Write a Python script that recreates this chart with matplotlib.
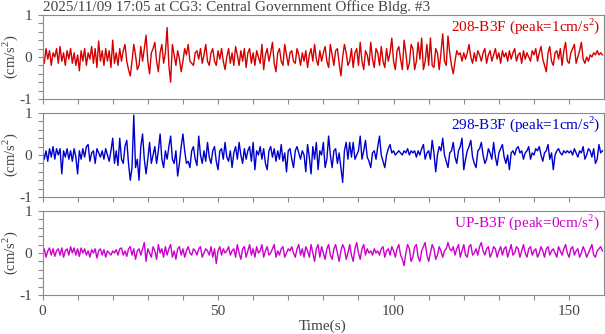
import numpy as np
import matplotlib
matplotlib.use("Agg")
from matplotlib import pyplot as plt

plt.rcParams['font.family'] = ['Liberation Serif', 'DejaVu Serif']
plt.rcParams['axes.unicode_minus'] = False
plt.rcParams['mathtext.fontset'] = 'custom'
plt.rcParams['mathtext.rm'] = 'Liberation Serif'

title = "2025/11/09 17:05 at CG3: Central Government Office Bldg. #3"
channels = ["208-B3F", "298-B3F", "UP-B3F"]
peaks = [1, 1, 0]
colors = ["#d40000", "#0000cc", "#cc00cc"]
dt = 0.5  # sample spacing (s)

# acceleration (cm/s^2), every 0.5 s
acc_208 = [
    0.05, -0.15, 0.2, -0.05, 0.15, -0.2, 0.1, 0.0, 0.2, -0.15, 0.25, -0.1, 0.1, -0.2, 0.15, -0.05, 0.2, -0.15, 0.1, -0.2,
    0.05, -0.33, 0.15, -0.1, 0.2, -0.2, 0.1, -0.05, 0.25, -0.15, 0.2, -0.25, 0.38, -0.1, 0.15, -0.2, 0.2, -0.1, 0.15, -0.25,
    0.4, -0.15, 0.1, -0.2, 0.2, -0.1, 0.15, 0.3, -0.1, -0.3, -0.45, -0.1, 0.3, 0.05, -0.3, -0.2, 0.25, -0.1, 0.2, 0.52,
    -0.1, -0.4, 0.1, 0.2, 0.35, -0.1, -0.35, 0.1, 0.3, -0.15, 0.1, 0.7, -0.2, -0.6, 0.3, 0.05, -0.2, 0.15, -0.05, -0.35,
    -0.1, 0.2, 0.05, 0.3, -0.1, -0.15, -0.2, 0.1, 0.15, -0.05, 0.2, -0.15, 0.05, 0.3, -0.1, -0.2, 0.1, 0.2, -0.1, -0.2,
    0.15, -0.05, 0.2, -0.1, -0.3, 0.0, 0.2, -0.15, 0.1, -0.2, 0.25, 0.05, -0.2, 0.15, -0.1, 0.2, -0.25, 0.1, 0.2, -0.15,
    0.1, -0.2, 0.15, 0.0, -0.15, 0.3, -0.3, 0.05, 0.2, -0.1, 0.1, 0.35, -0.15, -0.35, 0.1, 0.2, -0.1, -0.2, 0.3, 0.05,
    -0.2, 0.1, 0.15, -0.1, -0.15, 0.2, 0.05, -0.2, 0.1, -0.1, 0.15, -0.25, 0.05, 0.2, -0.1, 0.3, -0.05, -0.2, 0.15, -0.1,
    0.1, 0.25, -0.1, -0.25, 0.3, 0.05, -0.2, 0.15, 0.2, -0.15, -0.45, 0.0, 0.3, 0.1, -0.2, -0.1, 0.2, -0.25, 0.1, 0.2,
    -0.2, 0.35, -0.1, -0.3, 0.15, 0.05, -0.2, 0.35, -0.05, -0.25, 0.2, 0.1, -0.2, 0.25, -0.1, -0.25, 0.2, -0.1, 0.1, 0.45,
    -0.1, -0.3, 0.15, 0.25, -0.05, -0.3, 0.4, 0.1, -0.3, -0.15, 0.3, 0.2, -0.3, -0.1, 0.35, -0.05, 0.45, -0.3, -0.1, 0.3,
    -0.2, 0.45, -0.2, -0.25, 0.2, 0.1, -0.3, 0.1, 0.55, -0.1, -0.2, 0.5, 0.1, -0.2, -0.4, -0.1, 0.15, 0.05, 0.1, -0.1,
    0.1, -0.05, 0.1, 0.3, 0.0, -0.15, 0.1, -0.1, 0.15, 0.05, -0.1, 0.1, 0.2, -0.15, 0.05, 0.15, -0.1, 0.05, 0.2, -0.05,
    0.1, -0.15, 0.15, 0.0, 0.1, -0.1, 0.15, -0.05, 0.1, 0.2, -0.1, 0.05, 0.1, -0.15, 0.15, -0.05, 0.1, 0.0, -0.1, 0.15,
    0.05, 0.2, -0.1, 0.1, 0.25, -0.05, -0.2, -0.35, 0.1, 0.25, -0.1, -0.2, 0.1, 0.15, -0.05, 0.2, -0.2, 0.15, 0.35, -0.1,
    -0.15, 0.1, 0.2, 0.3, -0.15, 0.0, 0.15, 0.35, -0.05, -0.15, 0.0, -0.1, 0.05, 0.0, 0.1, 0.05, 0.15, 0.05, 0.1, 0.05,
]
acc_298 = [
    0.15, -0.1, 0.1, -0.15, 0.15, -0.05, 0.2, -0.1, 0.15, 0.0, 0.15, -0.45, 0.1, -0.05, 0.15, -0.1, 0.1, -0.15, 0.15, -0.05,
    -0.45, 0.1, -0.1, 0.15, -0.05, 0.2, 0.25, -0.15, 0.05, 0.1, -0.2, 0.15, 0.05, -0.05, 0.1, -0.1, 0.15, 0.0, -0.15, 0.1,
    0.4, -0.2, 0.1, -0.25, 0.4, -0.1, -0.2, 0.2, 0.35, -0.2, -0.6, -0.3, 0.95, -0.3, -0.1, -0.6, 0.2, 0.5, -0.1, -0.45,
    -0.1, 0.3, -0.2, 0.0, 0.2, -0.2, 0.1, 0.5, -0.1, -0.3, 0.1, -0.1, 0.2, 0.45, -0.1, -0.2, 0.1, -0.5, -0.2, 0.2,
    0.5, 0.1, -0.2, -0.15, -0.3, 0.1, 0.2, -0.1, -0.25, 0.45, 0.0, -0.2, 0.1, -0.15, 0.3, -0.05, -0.2, 0.1, 0.2, -0.15,
    -0.35, 0.1, 0.15, -0.1, 0.3, -0.05, -0.15, 0.1, -0.3, 0.05, 0.2, -0.1, 0.3, 0.0, -0.2, 0.15, -0.1, 0.1, 0.2, -0.15,
    0.3, -0.35, 0.1, 0.0, 0.2, -0.1, 0.15, -0.2, -0.35, 0.1, 0.2, -0.05, 0.15, -0.15, 0.1, -0.1, 0.25, -0.15, 0.05, -0.4,
    0.1, 0.15, -0.1, -0.3, 0.1, 0.2, 0.05, -0.1, 0.1, 0.0, -0.4, 0.25, -0.05, -0.45, 0.2, -0.1, 0.3, -0.35, 0.1, 0.0,
    0.3, -0.3, -0.1, 0.45, 0.0, -0.3, 0.1, 0.15, -0.2, 0.05, -0.3, -0.65, 0.1, 0.3, -0.1, 0.3, -0.05, 0.3, -0.1, 0.0,
    0.1, 0.45, -0.1, 0.1, 0.35, -0.05, -0.15, -0.3, 0.05, 0.1, -0.1, 0.2, 0.45, 0.0, -0.15, -0.3, 0.0, 0.15, 0.25, 0.05,
    0.1, 0.0, 0.05, 0.1, 0.05, 0.0, 0.1, 0.05, 0.15, 0.0, 0.1, 0.05, 0.1, -0.05, 0.1, 0.0, 0.15, 0.25, -0.1, 0.05,
    0.1, -0.1, 0.35, 0.05, -0.4, 0.0, 0.2, 0.1, 0.4, 0.0, -0.15, -0.3, 0.05, 0.1, 0.3, -0.05, -0.2, 0.1, 0.2, 0.4,
    -0.35, -0.1, 0.1, 0.2, 0.35, -0.05, -0.2, -0.3, 0.1, 0.15, 0.3, 0.0, -0.2, -0.1, 0.15, 0.05, -0.1, 0.3, -0.05, -0.25,
    0.05, 0.15, 0.25, -0.05, -0.2, 0.0, -0.35, 0.05, 0.1, 0.0, 0.15, 0.2, 0.05, 0.1, -0.1, 0.05, 0.1, 0.2, -0.1, 0.05,
    0.0, 0.15, 0.1, 0.2, 0.0, -0.15, 0.05, 0.1, 0.25, -0.1, 0.05, -0.35, 0.0, 0.1, 0.15, 0.05, 0.0, 0.1, 0.05, 0.1,
    0.05, 0.1, 0.0, 0.15, 0.05, -0.05, 0.1, 0.05, 0.2, -0.1, 0.0, 0.15, 0.1, -0.05, 0.15, -0.2, -0.1, 0.25, 0.05, 0.1,
]
acc_up = [
    -0.05, 0.1, -0.1, 0.05, 0.12, -0.05, 0.1, -0.08, 0.05, 0.1, -0.05, 0.12, -0.1, 0.05, 0.1, -0.05, 0.15, 0.0, 0.12, -0.05,
    0.1, -0.08, 0.12, 0.0, 0.1, -0.05, 0.05, -0.1, 0.08, 0.0, 0.1, -0.12, 0.05, 0.1, -0.05, 0.08, -0.1, 0.05, 0.0, -0.05,
    0.05, 0.0, 0.08, -0.05, 0.1, 0.12, -0.05, 0.05, -0.08, 0.1, 0.15, -0.05, 0.1, -0.15, 0.05, 0.1, -0.05, 0.1, 0.25, -0.2,
    0.1, 0.0, -0.1, 0.15, 0.05, -0.15, 0.2, 0.0, 0.1, -0.1, 0.15, -0.05, 0.1, 0.2, -0.1, 0.05, -0.15, 0.1, 0.15, -0.05,
    0.1, -0.1, 0.05, 0.15, 0.0, -0.05, 0.1, 0.05, -0.05, 0.1, 0.15, -0.1, 0.0, 0.1, 0.05, -0.05, 0.15, -0.1, 0.1, -0.25,
    0.05, 0.15, -0.05, 0.1, 0.0, 0.05, 0.15, -0.05, 0.05, 0.1, -0.1, 0.2, 0.0, -0.15, 0.1, 0.15, -0.1, 0.05, 0.2, -0.05,
    0.1, -0.1, 0.15, 0.0, 0.05, 0.2, -0.1, 0.05, 0.15, -0.05, 0.0, 0.1, 0.2, -0.1, 0.05, -0.05, 0.1, 0.15, -0.1, 0.0,
    0.1, 0.05, 0.15, 0.0, -0.1, 0.1, 0.2, -0.05, 0.1, -0.1, 0.15, 0.05, -0.1, 0.2, 0.0, -0.2, 0.1, 0.2, -0.1, 0.15,
    0.0, -0.15, 0.1, 0.2, -0.05, -0.15, 0.1, 0.2, 0.0, -0.2, 0.05, 0.2, 0.1, -0.15, 0.0, 0.2, -0.05, -0.2, 0.1, 0.25,
    0.0, -0.15, 0.1, 0.2, -0.05, 0.1, 0.0, 0.05, -0.05, 0.1, 0.0, 0.05, -0.05, 0.1, 0.15, -0.1, 0.05, 0.1, -0.05, 0.15,
    0.05, -0.1, 0.1, 0.2, -0.05, -0.15, -0.3, 0.0, 0.2, 0.1, -0.2, -0.1, 0.15, 0.2, -0.1, -0.2, 0.05, 0.15, 0.25, -0.05,
    -0.2, 0.0, 0.2, 0.1, -0.15, -0.05, 0.15, 0.05, -0.1, 0.05, 0.1, 0.25, 0.1, 0.05, 0.15, -0.05, 0.1, 0.2, -0.1, 0.05,
    0.2, -0.05, -0.1, 0.15, 0.2, -0.05, 0.0, 0.1, -0.05, 0.15, 0.25, 0.05, -0.05, 0.1, 0.15, -0.1, 0.0, 0.15, 0.1, -0.1,
    0.05, 0.15, -0.05, 0.1, 0.15, -0.1, 0.05, 0.2, -0.05, 0.0, 0.15, 0.1, -0.1, 0.05, 0.2, 0.0, -0.1, 0.1, 0.15, -0.05,
    0.05, 0.1, -0.1, 0.0, 0.15, 0.05, -0.1, 0.1, 0.15, -0.05, 0.05, 0.1, 0.0, -0.1, 0.15, 0.05, -0.05, 0.1, 0.2, 0.0,
    -0.1, 0.1, 0.15, -0.05, 0.05, 0.1, -0.1, 0.0, 0.15, 0.05, -0.1, 0.0, 0.1, 0.2, -0.05, -0.1, 0.05, 0.1, 0.15, 0.05,
]
traces = [acc_208, acc_298, acc_up]

grey = "#8a8a8a"
text_col = "#444444"
fs = 11

fig = plt.figure(figsize=(6.05, 3.34), dpi=100)
left, width = 42.5 / 605, (603.5 - 42.5) / 605
tops = [15, 113, 211]
h = 84

for i, (name, pk, col, acc) in enumerate(zip(channels, peaks, colors, traces)):
    ax = fig.add_axes([left, 1 - (tops[i] + h) / 334, width, h / 334])
    t = np.arange(len(acc)) * dt
    ax.plot(t, acc, color=col, lw=1.0)
    ax.set_xlim(0, 159.8)
    ax.set_ylim(-1, 1)
    ax.set_yticks([-1, 0, 1])
    ax.set_yticks(np.arange(-1, 1.01, 0.2), minor=True)
    ax.set_xticks([0, 50, 100, 150])
    ax.set_xticks(np.arange(0, 160, 10), minor=True)
    ax.tick_params(which='both', direction='out', color=grey, labelcolor=text_col,
                   labelsize=fs, width=0.8, length=3.5, pad=4)
    for s in ax.spines.values():
        s.set_color(grey)
        s.set_linewidth(0.8)
    if i < 2:
        ax.set_xticklabels([])
    else:
        ax.set_xlabel("Time(s)", color=text_col, fontsize=fs, labelpad=1)
    ax.set_ylabel("(cm/s$^2$)", color=text_col, fontsize=10.5)
    ax.yaxis.set_label_coords(-23 / 561, 0.5)
    ax.text(0.9938, 0.98, f"{name} (peak={pk}cm/s$^2$)", color=col, fontsize=fs,
            ha='right', va='top', transform=ax.transAxes)

fig.text(43 / 605, 1 - 11 / 334, title, color=text_col, fontsize=fs, ha='left', va='baseline')

fig.savefig("out.png", dpi=100)
